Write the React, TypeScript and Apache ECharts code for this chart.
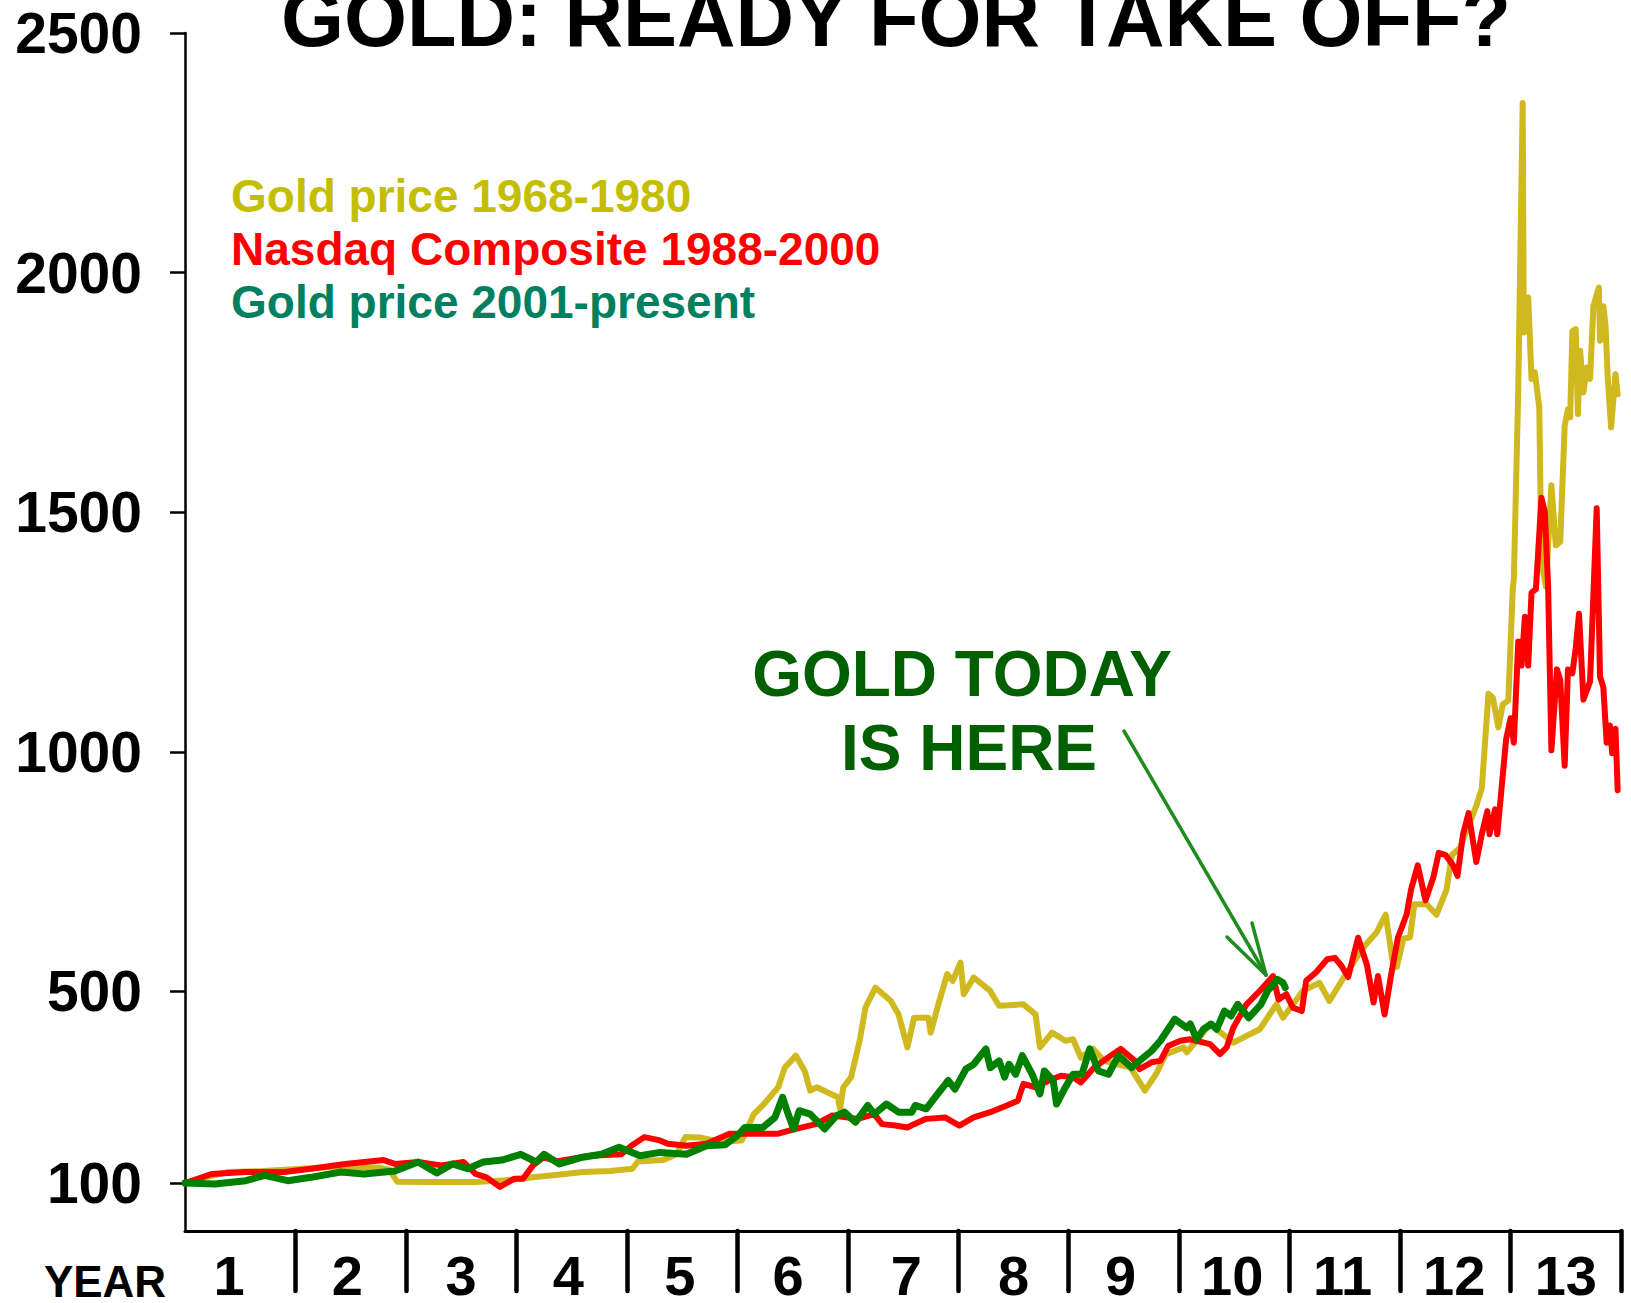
import React, { useEffect, useRef } from "react";
import * as echarts from "echarts";

// ---------- DATA ----------
const yTickValues = [100, 500, 1000, 1500, 2000, 2500];
const yearBoundaries = [1, 2, 3, 4, 5, 6, 7, 8, 9, 10, 11, 12, 13];
const yearLabelPositions = [0.4, 1.47, 2.5, 3.47, 4.48, 5.46, 6.53, 7.5, 8.47, 9.48, 10.48, 11.49, 12.5];
const yearLabels = ["1", "2", "3", "4", "5", "6", "7", "8", "9", "10", "11", "12", "13"];

const seriesNames = ["Gold price 1968-1980", "Nasdaq Composite 1988-2000", "Gold price 2001-present"];

// [year, index value (start = 100)]
const gold1968: [number, number][] = [
  [0, 100], [0.15, 110], [0.38, 123], [0.7, 125], [1.07, 130], [1.4, 135], [1.76, 132], [1.85, 128],
  [1.92, 103], [2.2, 102], [2.63, 102], [2.9, 106], [3.15, 112], [3.4, 118], [3.6, 123], [3.85, 125],
  [4.05, 130], [4.1, 145], [4.33, 148], [4.45, 160], [4.53, 196], [4.66, 195], [4.85, 186], [5.04, 189],
  [5.15, 244], [5.23, 262], [5.37, 300], [5.43, 341], [5.53, 366], [5.61, 334], [5.66, 293], [5.72, 300],
  [5.91, 279], [5.93, 255], [5.96, 300], [6.03, 321], [6.11, 400], [6.16, 466], [6.25, 508], [6.39, 480],
  [6.46, 452], [6.54, 383], [6.6, 445], [6.73, 445], [6.75, 414], [6.82, 473], [6.9, 536], [6.95, 522],
  [7.02, 560], [7.05, 494], [7.14, 529], [7.29, 501], [7.37, 470], [7.59, 473], [7.7, 452], [7.74, 383],
  [7.85, 414], [7.97, 397], [8.04, 400], [8.11, 362], [8.22, 380], [8.32, 355], [8.56, 341], [8.69, 293],
  [8.79, 327], [8.88, 369], [9.04, 383], [9.07, 373], [9.28, 432], [9.49, 393], [9.73, 421], [9.88, 473],
  [9.94, 445], [10.12, 501], [10.27, 518], [10.36, 480], [10.48, 525], [10.62, 575], [10.68, 595],
  [10.79, 624], [10.87, 660], [10.93, 566], [10.97, 551], [11.03, 610], [11.09, 613], [11.13, 682],
  [11.24, 682], [11.33, 660], [11.42, 712], [11.47, 785], [11.54, 799], [11.69, 887], [11.74, 924],
  [11.8, 1121], [11.84, 1113], [11.89, 1051], [11.93, 1099], [11.98, 1107], [12.02, 1340], [12.03, 1361],
  [12.07, 1757], [12.11, 2354], [12.12, 1875], [12.16, 1948], [12.19, 1778], [12.22, 1792], [12.26, 1719],
  [12.28, 1396], [12.32, 1345], [12.37, 1556], [12.41, 1431], [12.45, 1438], [12.49, 1680], [12.52, 1715],
  [12.54, 1698], [12.56, 1878], [12.59, 1882], [12.61, 1705], [12.63, 1837], [12.66, 1750], [12.69, 1802],
  [12.72, 1778], [12.75, 1930], [12.8, 1969], [12.81, 1858], [12.84, 1930], [12.86, 1889], [12.88, 1780],
  [12.91, 1677], [12.95, 1788], [12.97, 1746],
];

const nasdaq1988: [number, number][] = [
  [0, 100], [0.24, 119], [0.55, 123], [0.9, 123], [1.14, 130], [1.45, 140], [1.8, 148], [1.9, 140],
  [2.11, 144], [2.32, 137], [2.52, 144], [2.63, 119], [2.73, 112], [2.85, 92], [2.98, 109], [3.06, 109],
  [3.15, 137], [3.25, 154], [3.36, 145], [3.67, 157], [3.95, 160], [4.04, 178], [4.16, 196], [4.3, 189],
  [4.37, 182], [4.54, 178], [4.72, 182], [4.93, 203], [5.15, 203], [5.37, 203], [5.53, 213], [5.71, 223],
  [5.86, 241], [6.09, 234], [6.24, 244], [6.31, 223], [6.43, 220], [6.54, 216], [6.6, 223], [6.71, 234],
  [6.88, 237], [7.01, 220], [7.14, 237], [7.29, 248], [7.44, 262], [7.54, 272], [7.59, 307], [7.7, 300],
  [7.82, 314], [7.93, 324], [8.04, 321], [8.11, 310], [8.23, 341], [8.38, 366], [8.47, 380], [8.6, 355],
  [8.64, 338], [8.75, 352], [8.83, 355], [8.9, 386], [9.01, 397], [9.1, 400], [9.28, 390], [9.37, 369],
  [9.43, 383], [9.49, 424], [9.61, 473], [9.73, 501], [9.85, 532], [9.9, 483], [9.97, 494], [10.03, 466],
  [10.11, 459], [10.15, 522], [10.24, 540], [10.34, 567], [10.41, 570], [10.47, 553], [10.53, 530],
  [10.62, 612], [10.7, 555], [10.76, 477], [10.8, 532], [10.86, 452], [10.92, 536], [10.98, 612],
  [11.06, 661], [11.1, 713], [11.16, 763], [11.23, 690], [11.3, 737], [11.35, 789], [11.41, 785],
  [11.48, 763], [11.52, 741], [11.57, 828], [11.62, 872], [11.69, 770], [11.74, 828], [11.79, 876],
  [11.81, 828], [11.86, 880], [11.88, 828], [11.96, 1026], [12.0, 1070], [12.03, 1019], [12.07, 1230],
  [12.1, 1180], [12.13, 1282], [12.16, 1180], [12.19, 1332], [12.23, 1340], [12.28, 1530], [12.31, 1501],
  [12.34, 1347], [12.37, 1003], [12.42, 1172], [12.45, 1150], [12.49, 971], [12.52, 1172], [12.56, 1164],
  [12.59, 1216], [12.62, 1288], [12.66, 1109], [12.72, 1147], [12.78, 1508], [12.81, 1157], [12.84, 1135],
  [12.87, 1019], [12.9, 1055], [12.92, 997], [12.95, 1048], [12.97, 920],
];

const gold2001: [number, number][] = [
  [0, 100], [0.27, 98], [0.55, 105], [0.72, 116], [0.93, 105], [1.14, 112], [1.41, 123], [1.62, 119],
  [1.9, 125], [2.11, 144], [2.28, 121], [2.42, 140], [2.56, 130], [2.7, 144], [2.87, 148], [3.04, 160],
  [3.18, 144], [3.25, 160], [3.39, 140], [3.6, 154], [3.77, 160], [3.93, 175], [4.12, 157], [4.3, 164],
  [4.54, 160], [4.72, 178], [4.89, 180], [5.0, 199], [5.07, 216], [5.23, 216], [5.34, 237], [5.41, 279],
  [5.45, 251], [5.51, 213], [5.56, 251], [5.66, 244], [5.79, 213], [5.9, 241], [5.97, 248], [6.07, 227],
  [6.18, 262], [6.24, 244], [6.35, 265], [6.46, 248], [6.58, 248], [6.61, 262], [6.71, 255], [6.8, 282],
  [6.91, 314], [6.97, 296], [7.07, 338], [7.14, 348], [7.25, 380], [7.29, 341], [7.37, 355], [7.42, 321],
  [7.46, 348], [7.52, 327], [7.58, 366], [7.67, 327], [7.74, 286], [7.78, 334], [7.86, 314], [7.89, 265],
  [7.97, 300], [8.04, 327], [8.12, 327], [8.19, 380], [8.27, 334], [8.36, 327], [8.45, 366], [8.57, 341],
  [8.64, 355], [8.75, 376], [8.83, 397], [8.96, 442], [9.07, 424], [9.1, 432], [9.16, 400], [9.22, 421],
  [9.29, 432], [9.34, 421], [9.41, 459], [9.47, 449], [9.53, 473], [9.63, 445], [9.74, 473], [9.8, 501],
  [9.89, 525], [9.94, 518], [9.96, 508],
];

// ---------- STYLE ----------
const FONT = '"Liberation Sans", Arial, Helvetica, sans-serif';
const GOLD_LINE = "#CFB91F";
const GOLD_TEXT = "#C4BE00";
const RED = "#FF0000";
const GREEN_LINE = "#008000";
const GREEN_TEXT = "#00805F";
const NOTE_GREEN = "#006000";
const ARROW_GREEN = "#1E8C1E";

export default function App() {
  const ref = useRef<HTMLDivElement>(null);

  useEffect(() => {
    if (!ref.current) return;
    const chart = echarts.init(ref.current, null, { renderer: "svg" });

    const textEl = (
      text: string,
      x: number,
      y: number,
      size: number,
      fill: string,
      align = "left",
      lineHeight?: number
    ) => ({
      type: "text",
      x,
      y,
      silent: true,
      style: {
        text,
        fill,
        fontSize: size,
        fontWeight: "bold",
        fontFamily: FONT,
        align,
        verticalAlign: "middle",
        ...(lineHeight ? { lineHeight } : {}),
      },
    });

    const arrowLine = (x1: number, y1: number, x2: number, y2: number) => ({
      type: "line",
      silent: true,
      shape: { x1, y1, x2, y2 },
      style: { stroke: ARROW_GREEN, lineWidth: 3.5, lineCap: "round" },
    });

    const lineSeries = (name: string, data: [number, number][], color: string, width: number, z: number) => ({
      name,
      type: "line",
      data,
      showSymbol: false,
      symbol: "none",
      smooth: false,
      z,
      lineStyle: { color, width, join: "round", cap: "round" },
      emphasis: { disabled: true },
    });

    chart.setOption({
      animation: false,
      backgroundColor: "#ffffff",
      grid: { left: 185, right: 10, top: 33, bottom: 69, containLabel: false },
      xAxis: {
        type: "value",
        min: 0,
        max: 13,
        interval: 1,
        splitLine: { show: false },
        axisLine: { show: true, onZero: false, lineStyle: { color: "#000", width: 3 } },
        axisTick: {
          show: true,
          customValues: yearBoundaries,
          length: 60,
          inside: false,
          lineStyle: { color: "#000", width: 4.5, cap: "round" },
        },
        axisLabel: {
          show: true,
          customValues: yearLabelPositions,
          formatter: (v: number) => yearLabels[Math.floor(v)],
          margin: 20,
          lineHeight: 48,
          color: "#000",
          fontSize: 56,
          fontWeight: "bold",
          fontFamily: FONT,
        },
      },
      yAxis: {
        type: "value",
        min: 0,
        max: 2500,
        splitLine: { show: false },
        axisLine: { show: true, lineStyle: { color: "#000", width: 2.5 } },
        axisTick: {
          show: true,
          customValues: yTickValues,
          length: 15,
          lineStyle: { color: "#000", width: 2.5 },
        },
        axisLabel: {
          show: true,
          customValues: yTickValues,
          formatter: (v: number) => String(v),
          margin: 43,
          color: "#000",
          fontSize: 57,
          fontWeight: "bold",
          fontFamily: FONT,
        },
      },
      series: [
        lineSeries(seriesNames[0], gold1968, GOLD_LINE, 6, 2),
        lineSeries(seriesNames[1], nasdaq1988, RED, 6, 3),
        lineSeries(seriesNames[2], gold2001, GREEN_LINE, 7, 4),
      ],
      graphic: [
        textEl("GOLD: READY FOR TAKE OFF?", 896, 18, 81, "#000", "center"),
        textEl(seriesNames[0], 231, 196, 46, GOLD_TEXT),
        textEl(seriesNames[1], 231, 249, 46, RED),
        textEl(seriesNames[2], 231, 302, 46, GREEN_TEXT),
        textEl("GOLD TODAY", 962, 674, 64, NOTE_GREEN, "center"),
        textEl("IS HERE", 969, 748, 64, NOTE_GREEN, "center"),
        textEl("YEAR", 105, 1281, 44, "#000", "center", 40),
        arrowLine(1124, 731, 1266, 975),
        arrowLine(1227, 937, 1266, 975),
        arrowLine(1252, 923, 1266, 975),
      ],
    });

    return () => chart.dispose();
  }, []);

  return (
    <div
      ref={ref}
      style={{ position: "absolute", left: 0, top: 0, width: 1631, height: 1303, background: "#fff" }}
    />
  );
}
